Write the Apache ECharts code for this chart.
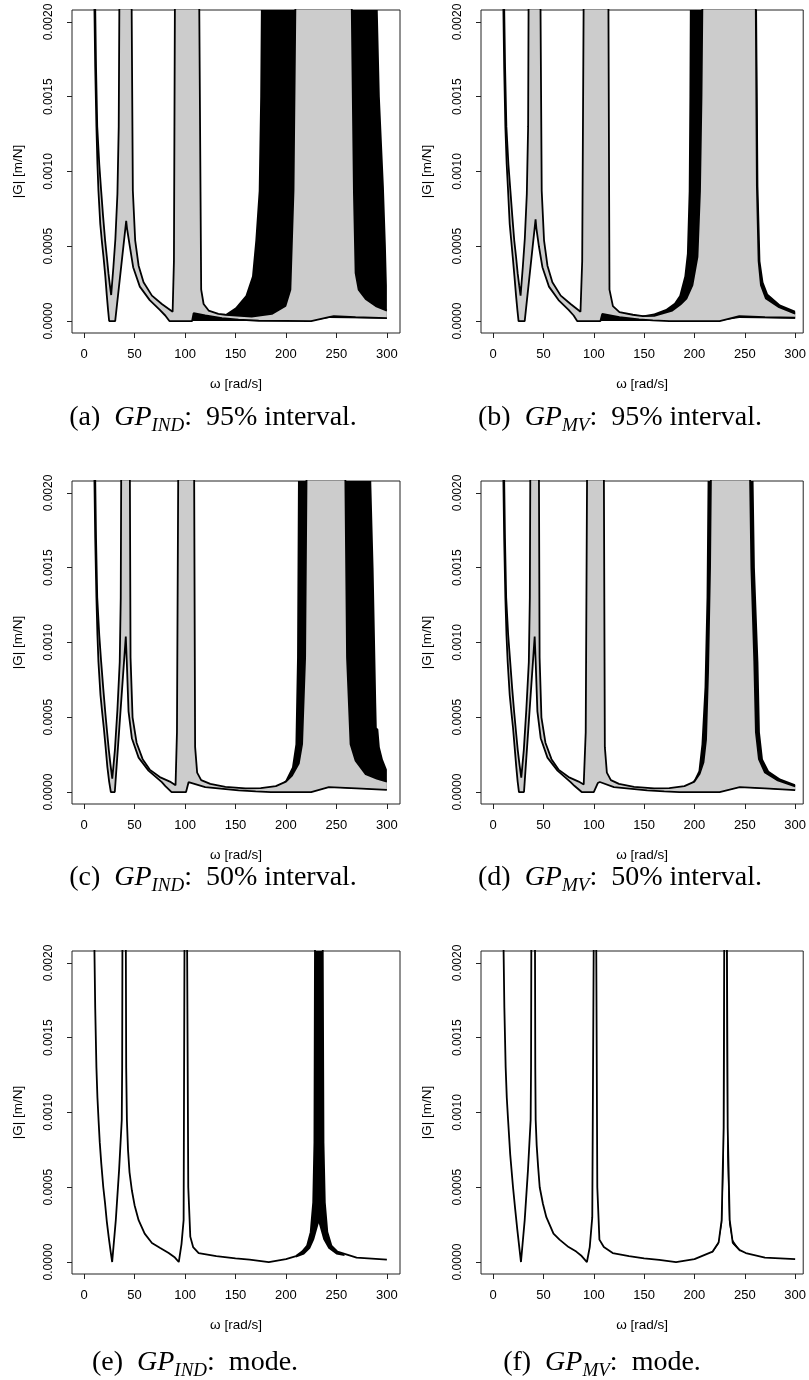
<!DOCTYPE html>
<html>
<head>
<meta charset="utf-8">
<script src="https://cdn.jsdelivr.net/npm/echarts/dist/echarts.min.js"></script>
<style>
  html, body { margin: 0; padding: 0; background: #fff; }
  #chart { width: 809px; height: 1380px; }
</style>
</head>
<body>
<div id="chart"></div>
<script>
// tick labels
const xTicks = [0, 50, 100, 150, 200, 250, 300];
const yTicks = [0, 0.0005, 0.001, 0.0015, 0.002];

// (a) GP_IND 95%
const aGreyHi = [[10.8,0.0022],[11.8,0.0017],[13,0.0013],[15,0.00105],[16.9,0.00087],[18.8,0.0007],[20.8,0.00054],[22.5,0.00043],[24.1,0.00032],[25.5,0.00024],[26.8,0.000174],[29,0.00036],[31,0.00055],[33,0.00085],[34.3,0.0013],[35,0.0022],[47,0.0022],[48.3,0.00087],[50.6,0.00054],[54,0.00037],[58.9,0.00026],[67.2,0.00017],[77,0.000114],[87.7,0.000062],[89,0.0004],[90,0.0022],[114,0.0022],[116,0.00021],[118.4,0.000114],[123.4,0.00007],[133,0.000048],[140,0.000042],[166,0.00003],[186,0.000048],[199.5,0.0001],[204.4,0.00021],[207.5,0.00087],[209.5,0.0022],[265,0.0022],[267.3,0.00087],[269,0.00032],[272,0.00021],[279,0.000147],[289,0.0001],[300,0.00007]];
const aGreyLo = [[10,0.0022],[11,0.0017],[12.2,0.0013],[13.2,0.00105],[14.2,0.00087],[16,0.00065],[17.5,0.00054],[19.2,0.00043],[21,0.0003],[22.5,0.00017],[23.8,0.00007],[24.8,0],[30.8,0],[41.7,0.00067],[42.5,0.00062],[45.3,0.0005],[48.6,0.00036],[55.2,0.00023],[65,0.00014],[75,0.000074],[80.4,0.000037],[84.5,0],[107,0],[108.5,0.000053],[120,0.000037],[136.6,0.00002],[153,0.0000088],[173,0.000002],[225,0],[242.5,0.000026],[247.4,0.000033],[269,0.000026],[300,0.00002]];
const aBlackHi = [[107,0.00005],[140,0.000045],[150,0.00009],[160,0.00017],[166.4,0.0003],[169.7,0.00054],[173,0.00087],[174.5,0.0015],[175.3,0.0022],[290.5,0.0022],[293,0.0015],[297,0.0009],[299,0.0005],[300,0.00024]];
const aBlackLo = [[107,0],[225,0],[242.5,0.00002],[300,0.000015]];

// (b) GP_MV 95%
const bGreyHi = [[10.8,0.0022],[11.9,0.0017],[13.2,0.0013],[15.2,0.00105],[17.2,0.00087],[19.1,0.0007],[21,0.00054],[22.8,0.00043],[24.4,0.00032],[25.9,0.00024],[27.3,0.00017],[29.5,0.00036],[31.5,0.00055],[33.5,0.00085],[34.8,0.0013],[35.3,0.0022],[47,0.0022],[48.3,0.00087],[50.6,0.00054],[54,0.00037],[58.9,0.00026],[67.2,0.00017],[77,0.000114],[86.8,0.000062],[88.5,0.0004],[90,0.0022],[114.5,0.0022],[115.6,0.00021],[119,0.0001],[125.5,0.00006],[138.8,0.000042],[148.7,0.000033],[160,0.000035],[178,0.00007],[186,0.00011],[192,0.00015],[198,0.00024],[203,0.00043],[205.5,0.00087],[207,0.0015],[208,0.0022],[260.8,0.0022],[262,0.0009],[263.7,0.0004],[266,0.00024],[271,0.00015],[284,0.000092],[300,0.00005]];
const bGreyLo = [[10,0.0022],[11,0.0017],[12.2,0.0013],[13.5,0.00105],[14.9,0.00087],[16.5,0.00065],[18,0.00054],[19.5,0.00043],[21.2,0.0003],[22.8,0.00017],[24.2,0.00007],[25.3,0],[31.4,0],[42.2,0.00068],[43,0.00062],[45.5,0.0005],[49,0.00036],[55.5,0.00023],[65,0.00014],[75,0.000074],[80,0.000037],[83.5,0],[106.6,0],[108.4,0.000048],[125.5,0.000026],[145,0.000011],[158.6,0.000004],[175,0],[225,0],[244.5,0.000033],[270,0.000026],[300,0.000022]];
const bBlackHi = [[107,0.00005],[148.7,0.000037],[160,0.00005],[171.8,0.00008],[180,0.00012],[185,0.00017],[190,0.0003],[192.5,0.00045],[194.3,0.00087],[195,0.0015],[195.5,0.0022],[262,0.0022],[263.5,0.0009],[265.5,0.0004],[268.5,0.00026],[273,0.00018],[285,0.00011],[300,0.000068]];
const bBlackLo = [[107,0],[225,0],[244.5,0.00002],[300,0.000015]];

// (c) GP_IND 50%
const cGreyHi = [[10.8,0.0022],[11.8,0.0017],[13,0.0013],[15,0.00105],[16.9,0.00087],[19,0.00069],[21,0.00053],[22.8,0.0004],[24.5,0.00028],[26.2,0.00018],[27.9,0.000089],[30.5,0.00028],[33,0.00055],[35.3,0.00087],[36.3,0.0013],[36.8,0.0022],[45.3,0.0022],[46,0.0009],[48,0.0005],[52,0.00033],[58,0.00022],[65,0.00015],[75,0.0001],[85,0.00007],[90.6,0.000045],[92,0.0004],[93.3,0.0022],[109,0.0022],[110,0.0003],[112,0.00013],[116,0.00008],[125,0.000055],[140,0.000035],[160,0.000025],[175,0.000026],[190,0.00004],[200,0.00007],[206,0.00011],[212.7,0.00019],[216,0.00032],[219,0.0009],[220.5,0.0022],[258.7,0.0022],[260.5,0.0009],[264,0.00032],[269,0.00021],[279,0.00012],[290,0.00009],[300,0.00007]];
const cGreyLo = [[10,0.0022],[11,0.0017],[12.2,0.0013],[13.2,0.00105],[14.2,0.00087],[16.2,0.00065],[17.8,0.00054],[19.5,0.00043],[21.3,0.0003],[23,0.00017],[24.8,0.00007],[26.5,0],[30.4,0],[41.3,0.00104],[42.3,0.00087],[44,0.00054],[47.3,0.00036],[54,0.00023],[63.8,0.000143],[77,0.000066],[80.5,0.00004],[86.7,0],[101,0],[103.5,0.000066],[105,0.000067],[120,0.000033],[153,0.000011],[170,0.000004],[185,0],[225,0],[242.5,0.000033],[270,0.000025],[300,0.000015]];
const cBlackHi = [[185,0.00003],[195,0.00005],[199.5,0.000077],[206,0.000165],[209.4,0.00032],[211,0.0009],[212,0.0022],[284,0.0022],[286.8,0.0015],[289.4,0.0006],[290,0.00043],[291.5,0.00042],[293,0.0003],[296,0.00022],[300,0.00015]];
const cBlackLo = [[185,0],[225,0],[242.5,0.00003],[300,0.000014]];

// (d) GP_MV 50%
const dGreyHi = [[10.8,0.0022],[11.8,0.0017],[13,0.0013],[15,0.00105],[17,0.00087],[19,0.00069],[21,0.00053],[22.8,0.0004],[24.5,0.00028],[26.3,0.00018],[28,0.000096],[30.5,0.00028],[33,0.00055],[35.5,0.00087],[36.5,0.0013],[37,0.0022],[45.5,0.0022],[46.2,0.0009],[48,0.0005],[52,0.00033],[58,0.00022],[65,0.00015],[75,0.0001],[85,0.00007],[90,0.000051],[92,0.0004],[93.4,0.0022],[110,0.0022],[111,0.0003],[113,0.00013],[117,0.00008],[125,0.000055],[140,0.000035],[160,0.000025],[175,0.000026],[190,0.00004],[200,0.00007],[205,0.00012],[209,0.0002],[211.5,0.00035],[213.5,0.0008],[215.5,0.0015],[216.5,0.0022],[255,0.0022],[256.5,0.0015],[259.4,0.00087],[261,0.0004],[264,0.00022],[270,0.00013],[282,0.00008],[300,0.000038]];
const dGreyLo = [[10,0.0022],[11,0.0017],[12.2,0.0013],[13.3,0.00105],[14.5,0.00087],[16.5,0.00065],[18.1,0.00054],[19.8,0.00043],[21.4,0.0003],[23,0.00017],[24.4,0.00007],[25.7,0],[30.7,0],[41.3,0.00104],[42.3,0.00087],[44,0.00054],[47.3,0.00036],[54,0.00023],[64,0.000143],[77,0.000066],[81,0.00004],[88,0],[100,0],[104,0.00006],[106,0.000067],[120,0.000033],[153,0.000011],[170,0.000004],[185,0],[225,0],[245,0.000033],[270,0.000025],[300,0.000013]];
const dBlackHi = [[195,0.00004],[200,0.000085],[204,0.00014],[207,0.00032],[210,0.0007],[212,0.0013],[213.2,0.0022],[258.4,0.0022],[260,0.0015],[263.5,0.00087],[265,0.0004],[268,0.00022],[274,0.00014],[285,0.00009],[300,0.000052]];
const dBlackLo = [[195,0.00003],[225,0],[245,0.00003],[300,0.000012]];

// (e) GP_IND mode
const eMode = [[10,0.0022],[11,0.0017],[12.2,0.0013],[13.2,0.0011],[14.3,0.00095],[15.5,0.0008],[17,0.00066],[19,0.0005],[20.8,0.00039],[22.5,0.00027],[24.5,0.00016],[26.3,0.00007],[27.8,0],[31.4,0.00028],[34.7,0.00062],[37.3,0.00095],[37.7,0.0013],[38,0.0022],[41.3,0.0022],[41.7,0.0013],[42.4,0.00095],[43.5,0.00075],[45,0.0006],[47.3,0.00048],[50,0.00038],[54,0.00028],[60,0.00019],[67.2,0.000127],[75,0.000095],[83.8,0.00006],[90,0.00003],[93.8,0],[96.5,0.00012],[98.6,0.00028],[99.5,0.0022],[102,0.0022],[103.2,0.0005],[105.2,0.00017],[108,0.0001],[113.5,0.00006],[131,0.00004],[150,0.000025],[164,0.000016],[183,0],[200,0.00002],[210,0.00004],[216,0.00007],[221,0.00011],[224.5,0.0002],[227,0.0004],[228.2,0.0008],[228.8,0.0022],[236.4,0.0022],[237.2,0.0008],[238.5,0.0004],[241,0.0002],[245,0.00011],[251,0.00007],[270,0.00003],[300,0.000016]];
const eBandHi = [[210,0.00004],[216,0.00007],[221,0.00011],[224.5,0.0002],[227,0.0004],[228.2,0.0008],[228.8,0.0022],[236.4,0.0022],[237.2,0.0008],[238.5,0.0004],[241,0.0002],[245,0.00011],[251,0.00007],[258,0.00005]];
const eBandLo = [[210,0.00003],[218,0.00005],[224,0.00009],[228,0.00015],[232.5,0.00026],[237,0.00015],[242,0.00009],[250,0.00005],[258,0.00004]];

// (f) GP_MV mode
const fMode = [[10.2,0.0022],[11.2,0.0017],[12.5,0.0013],[13.6,0.0011],[14.9,0.00095],[17,0.00072],[19.8,0.0005],[22,0.00035],[24,0.00022],[26,0.0001],[27.7,0],[31.4,0.00028],[34.7,0.00062],[37.3,0.00095],[37.7,0.0013],[38,0.0022],[41.6,0.0022],[41.9,0.0013],[42.3,0.00095],[43.3,0.00078],[44.7,0.00064],[46.3,0.0005],[49.5,0.00039],[52.9,0.0003],[60,0.00019],[66,0.00015],[75,0.0001],[82.6,0.00007],[88,0.00004],[93.2,0],[96,0.0001],[98.5,0.0003],[100,0.0022],[102.4,0.0022],[103.5,0.0005],[105.6,0.00015],[110,0.0001],[118.8,0.00006],[135,0.00004],[150,0.000025],[165,0.000015],[181.7,0],[200,0.00002],[218,0.00007],[224,0.00013],[227,0.00028],[229,0.0009],[229.6,0.0022],[232.2,0.0022],[233,0.0009],[235,0.00028],[238,0.00013],[245,0.00008],[251,0.00006],[270,0.00003],[300,0.00002]];
const fBandHi = [[218,0.00007],[224,0.00014],[227,0.0003],[228.8,0.0008],[229.2,0.0015],[229.4,0.0022],[232.4,0.0022],[232.6,0.0012],[233.5,0.0006],[235,0.0003],[238,0.00015],[245,0.00008]];
const fBandLo = [[218,0.00006],[224,0.00012],[227.5,0.00026],[229.3,0.0007],[229.9,0.0015],[230.2,0.0022],[231.6,0.0022],[231.9,0.0015],[232.5,0.0007],[234.3,0.00026],[238,0.00012],[245,0.00007]];

// captions
const capTags = ['(a)', '(b)', '(c)', '(d)', '(e)', '(f)'];
const capSubs = ['IND', 'MV', 'IND', 'MV', 'IND', 'MV'];
const capTexts = ['95% interval.', '95% interval.', '50% interval.', '50% interval.', 'mode.', 'mode.'];

const panels = [
  { greyHi: aGreyHi, greyLo: aGreyLo, blackHi: aBlackHi, blackLo: aBlackLo },
  { greyHi: bGreyHi, greyLo: bGreyLo, blackHi: bBlackHi, blackLo: bBlackLo },
  { greyHi: cGreyHi, greyLo: cGreyLo, blackHi: cBlackHi, blackLo: cBlackLo },
  { greyHi: dGreyHi, greyLo: dGreyLo, blackHi: dBlackHi, blackLo: dBlackLo },
  { mode: eMode, blackHi: eBandHi, blackLo: eBandLo },
  { mode: fMode, blackHi: fBandHi, blackLo: fBandLo }
];

const chart = echarts.init(document.getElementById('chart'));
const sans = 'Liberation Sans';
const serif = 'Liberation Serif';

// panel layout
const rowsTop = [10, 481, 951];
const colLeft = [72, 481];
const colWidth = [328, 323];
const colXMax = [313, 308];
const capX = [208, 615];
const capY = [396, 856, 1341];

const grids = [], xAxes = [], yAxes = [], series = [], titles = [];

// polygon between an upper and lower curve
function band(i, hi, lo, color, z) {
  return {
    type: 'custom', xAxisIndex: i, yAxisIndex: i, clip: true, silent: true, z: z,
    data: [[0, 0]],
    renderItem: function (params, api) {
      const pts = hi.concat(lo.slice().reverse()).map(function (p) { return api.coord(p); });
      return { type: 'polygon', shape: { points: pts }, style: { fill: color, stroke: null } };
    }
  };
}

function curve(i, pts) {
  return {
    type: 'line', xAxisIndex: i, yAxisIndex: i, data: pts, symbol: 'none', silent: true, z: 5,
    lineStyle: { color: '#000', width: 1.8 }
  };
}

panels.forEach(function (p, i) {
  const col = i % 2, row = Math.floor(i / 2);
  grids.push({ left: colLeft[col], top: rowsTop[row], width: colWidth[col], height: 323,
    show: true, borderColor: '#222', borderWidth: 1, backgroundColor: 'transparent' });
  xAxes.push({
    gridIndex: i, type: 'value', min: -12, max: colXMax[col],
    axisLine: { show: false, onZero: false }, splitLine: { show: false },
    axisTick: { customValues: xTicks, length: 5, lineStyle: { color: '#222' } },
    axisLabel: { customValues: xTicks, fontFamily: sans, fontSize: 13, color: '#000', margin: 15 },
    name: 'ω [rad/s]', nameLocation: 'middle', nameGap: 44,
    nameTextStyle: { fontFamily: sans, fontSize: 13.5, color: '#000' }
  });
  yAxes.push({
    gridIndex: i, type: 'value', min: -0.00008, max: 0.00208,
    axisLine: { show: false, onZero: false }, splitLine: { show: false },
    axisTick: { customValues: yTicks, length: 5, lineStyle: { color: '#222' } },
    axisLabel: { customValues: yTicks, rotate: 90, fontFamily: sans, fontSize: 12, color: '#000', margin: 17,
      formatter: function (v) { return v.toFixed(4); } },
    name: '|G| [m/N]', nameLocation: 'middle', nameGap: 47, nameRotate: 90,
    nameTextStyle: { fontFamily: sans, fontSize: 13.5, color: '#000' }
  });

  series.push(band(i, p.blackHi, p.blackLo, '#000', 1));
  if (p.greyHi) {
    series.push(band(i, p.greyHi, p.greyLo, '#cccccc', 2));
    series.push(curve(i, p.greyHi));
    series.push(curve(i, p.greyLo));
  } else {
    series.push(curve(i, p.mode));
  }

  titles.push({
    text: '{n|' + capTags[i] + '  }{i|GP}{s|' + capSubs[i] + '}{n|:  ' + capTexts[i] + '}',
    left: capX[col] + (row === 2 ? -18 : 0), top: capY[row], textAlign: 'center',
    textStyle: {
      fontFamily: serif, fontSize: 28, color: '#000', fontWeight: 'normal',
      rich: {
        n: { fontFamily: serif, fontSize: 28, color: '#000', lineHeight: 34 },
        i: { fontFamily: serif, fontSize: 28, fontStyle: 'italic', color: '#000', lineHeight: 34 },
        s: { fontFamily: serif, fontSize: 19, fontStyle: 'italic', color: '#000', lineHeight: 20, verticalAlign: 'bottom' }
      }
    }
  });
});

chart.setOption({
  animation: false,
  backgroundColor: '#fff',
  title: titles,
  grid: grids,
  xAxis: xAxes,
  yAxis: yAxes,
  series: series
});
</script>
</body>
</html>
